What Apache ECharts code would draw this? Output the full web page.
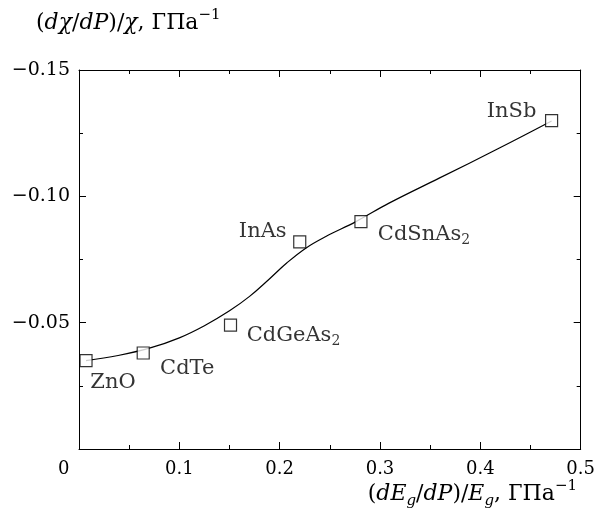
<!DOCTYPE html>
<html>
<head>
<meta charset="utf-8">
<script src="https://cdn.jsdelivr.net/npm/echarts@6/dist/echarts.min.js"></script>
<style>
  html, body { margin: 0; padding: 0; background: #fff; }
  #chart { width: 598px; height: 515px; }
</style>
</head>
<body>
<div id="chart"></div>
<script>
// measured points
const materials = ['ZnO', 'CdTe', 'CdGeAs2', 'InAs', 'CdSnAs2', 'InSb'];
const xVals = [0.007, 0.064, 0.151, 0.220, 0.281, 0.471];
const yVals = [-0.035, -0.038, -0.049, -0.082, -0.090, -0.130];

// fitted curve drawn through the points
const curveX = [0.007, 0.039, 0.071, 0.100, 0.125, 0.150, 0.170, 0.190, 0.207, 0.226, 0.246, 0.276, 0.309, 0.359, 0.419, 0.471];
const curveY = [-0.0350, -0.0370, -0.0400, -0.0440, -0.0488, -0.0547, -0.0604, -0.0674, -0.0736, -0.0795, -0.0841, -0.0900, -0.0973, -0.1072, -0.1191, -0.1298];

const xTicks = [0, 0.1, 0.2, 0.3, 0.4, 0.5];
const yTicks = [-0.15, -0.10, -0.05, 0];

// label placement next to each marker
const labelOffsets = {
    ZnO: [27, 22], CdTe: [44, 16], CdGeAs2: [63, 10],
    InAs: [-37, -10], CdSnAs2: [63, 13], InSb: [-40, -9]
};

const serif = 'DejaVu Serif';
const black = '#000';

const chartDom = document.getElementById('chart');
const myChart = echarts.init(chartDom);

function chem(name) {
    // trailing digit -> subscript
    return name.replace(/([A-Za-z]+)(\d+)$/, '{a|$1}{s|$2}').replace(/^([A-Za-z]+)$/, '{a|$1}');
}

function axisStyle() {
    return {
        axisLine: {show: true, onZero: false, lineStyle: {color: black, width: 1}},
        axisTick: {show: true, inside: true, length: 7, lineStyle: {color: black}},
        minorTick: {show: true, splitNumber: 2, length: 4, lineStyle: {color: black}},
        splitLine: {show: false},
        minorSplitLine: {show: false}
    };
}

const txt = {fontFamily: serif, fontWeight: 'normal', color: black};
const titleRich = {
    n: Object.assign({fontSize: 22, lineHeight: 30}, txt),
    i: Object.assign({fontSize: 22, lineHeight: 30, fontStyle: 'italic'}, txt),
    sub: Object.assign({fontSize: 15, lineHeight: 15, fontStyle: 'italic', verticalAlign: 'bottom'}, txt),
    sup: Object.assign({fontSize: 15, lineHeight: 15, verticalAlign: 'top'}, txt)
};

const option = {
    animation: false,
    backgroundColor: '#fff',
    grid: {left: 79, right: 16, top: 70, bottom: 66},
    title: [
        {
            left: 31, top: 3,
            text: '{n|(}{i|dχ}{n|/}{i|dP}{n|)/}{i|χ}{n|, ГПа}{sup|−1}',
            textStyle: {fontWeight: 'normal', rich: titleRich}
        },
        {
            right: 16, top: 474,
            text: '{n|(}{i|dE}{sub|g}{n|/}{i|dP}{n|)/}{i|E}{sub|g}{n|, ГПа}{sup|−1}',
            textStyle: {fontWeight: 'normal', rich: titleRich}
        }
    ],
    graphic: [
        {
            type: 'text', left: 58, top: 460,
            style: {text: String(xTicks[0]), fontFamily: serif, fontSize: 18, fill: black}
        }
    ],
    xAxis: [
        Object.assign({
            type: 'value', position: 'bottom',
            min: xTicks[0], max: xTicks[xTicks.length - 1], interval: 0.1,
            axisLabel: {
                margin: 11, fontFamily: serif, fontSize: 18, color: black,
                formatter: v => (v === 0 ? '' : v.toFixed(1))
            }
        }, axisStyle()),
        Object.assign({
            type: 'value', position: 'top',
            min: xTicks[0], max: xTicks[xTicks.length - 1], interval: 0.1,
            axisLabel: {show: false}
        }, axisStyle())
    ],
    yAxis: [
        Object.assign({
            type: 'value', position: 'left', inverse: true,
            min: yTicks[0], max: yTicks[yTicks.length - 1], interval: 0.05,
            axisLabel: {
                margin: 9, fontFamily: serif, fontSize: 19, color: black,
                formatter: v => (Math.abs(v) < 1e-9 ? '' : '−' + Math.abs(v).toFixed(2))
            }
        }, axisStyle()),
        Object.assign({
            type: 'value', position: 'right', inverse: true,
            min: yTicks[0], max: yTicks[yTicks.length - 1], interval: 0.05,
            axisLabel: {show: false}
        }, axisStyle())
    ],
    series: [
        {
            type: 'line',
            xAxisIndex: 0, yAxisIndex: 0,
            data: curveX.map((x, i) => [x, curveY[i]]),
            smooth: 0.4,
            showSymbol: false,
            lineStyle: {color: black, width: 1.2},
            z: 2
        },
        {
            type: 'scatter',
            xAxisIndex: 0, yAxisIndex: 0,
            symbol: 'rect',
            symbolSize: 12,
            itemStyle: {color: '#fff', borderColor: black, borderWidth: 1.2},
            z: 3,
            data: materials.map((m, i) => ({
                name: m,
                value: [xVals[i], yVals[i]],
                label: {offset: labelOffsets[m]}
            })),
            label: {
                show: true,
                position: 'inside',
                formatter: p => chem(p.name),
                rich: {
                    a: {fontFamily: serif, fontSize: 21, color: black, lineHeight: 26},
                    s: {fontFamily: serif, fontSize: 14, color: black, lineHeight: 14, verticalAlign: 'bottom'}
                }
            }
        }
    ]
};

option && myChart.setOption(option);
</script>
</body>
</html>
